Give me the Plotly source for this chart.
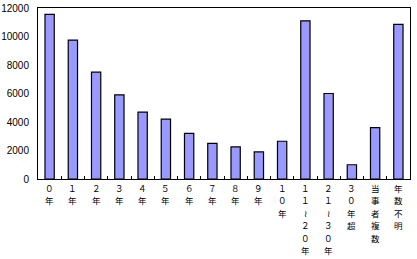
import plotly.graph_objects as go

categories = ["０年", "１年", "２年", "３年", "４年", "５年", "６年", "７年", "８年", "９年",
              "１０年", "１１～２０年", "２１～３０年", "３０年超", "当事者複数", "年数不明"]
values = [11550, 9750, 7500, 5900, 4700, 4200, 3200, 2500, 2250, 1900,
          2650, 11100, 6000, 1000, 3600, 10850]
y_ticks = [0, 2000, 4000, 6000, 8000, 10000, 12000]
y_tick_text = ["0", "2000", "4000", "6000", "8000", "10000", "12000"]

fig = go.Figure(go.Bar(
    x=categories, y=values,
    marker=dict(color="#9999FF", line=dict(color="black", width=1.2)),
))

# vertical (stacked) category labels, one character per line
annotations = []
for cat in categories:
    for i, ch in enumerate(cat):
        annotations.append(dict(
            x=cat, xref="x", y=0, yref="paper",
            text="≀" if ch == "～" else ch,
            showarrow=False, xanchor="center", yanchor="middle",
            yshift=-(9 + i * 12.4),
            font=dict(family="Noto Sans CJK JP", size=8.5, color="black"),
        ))

fig.update_layout(
    width=417, height=259,
    margin=dict(l=38, r=7, t=8, b=80),
    paper_bgcolor="white", plot_bgcolor="white",
    bargap=0.6,
    showlegend=False,
    font=dict(family="Noto Sans CJK JP", size=10, color="black"),
    annotations=annotations,
)
fig.update_xaxes(
    type="category", showline=True, linecolor="black", linewidth=1, mirror=True,
    ticks="inside", tickson="boundaries", ticklen=3, tickcolor="black",
    showgrid=False, showticklabels=False, automargin=False,
)
fig.update_yaxes(
    range=[0, 12000], tickvals=y_ticks, ticktext=y_tick_text,
    showline=True, linecolor="black", linewidth=1,
    mirror=True, showgrid=False, zeroline=False, ticks="",
    ticklabelstandoff=6, automargin=False,
    tickfont=dict(size=10, family="Liberation Sans"),
)

fig.write_html("out.html")
